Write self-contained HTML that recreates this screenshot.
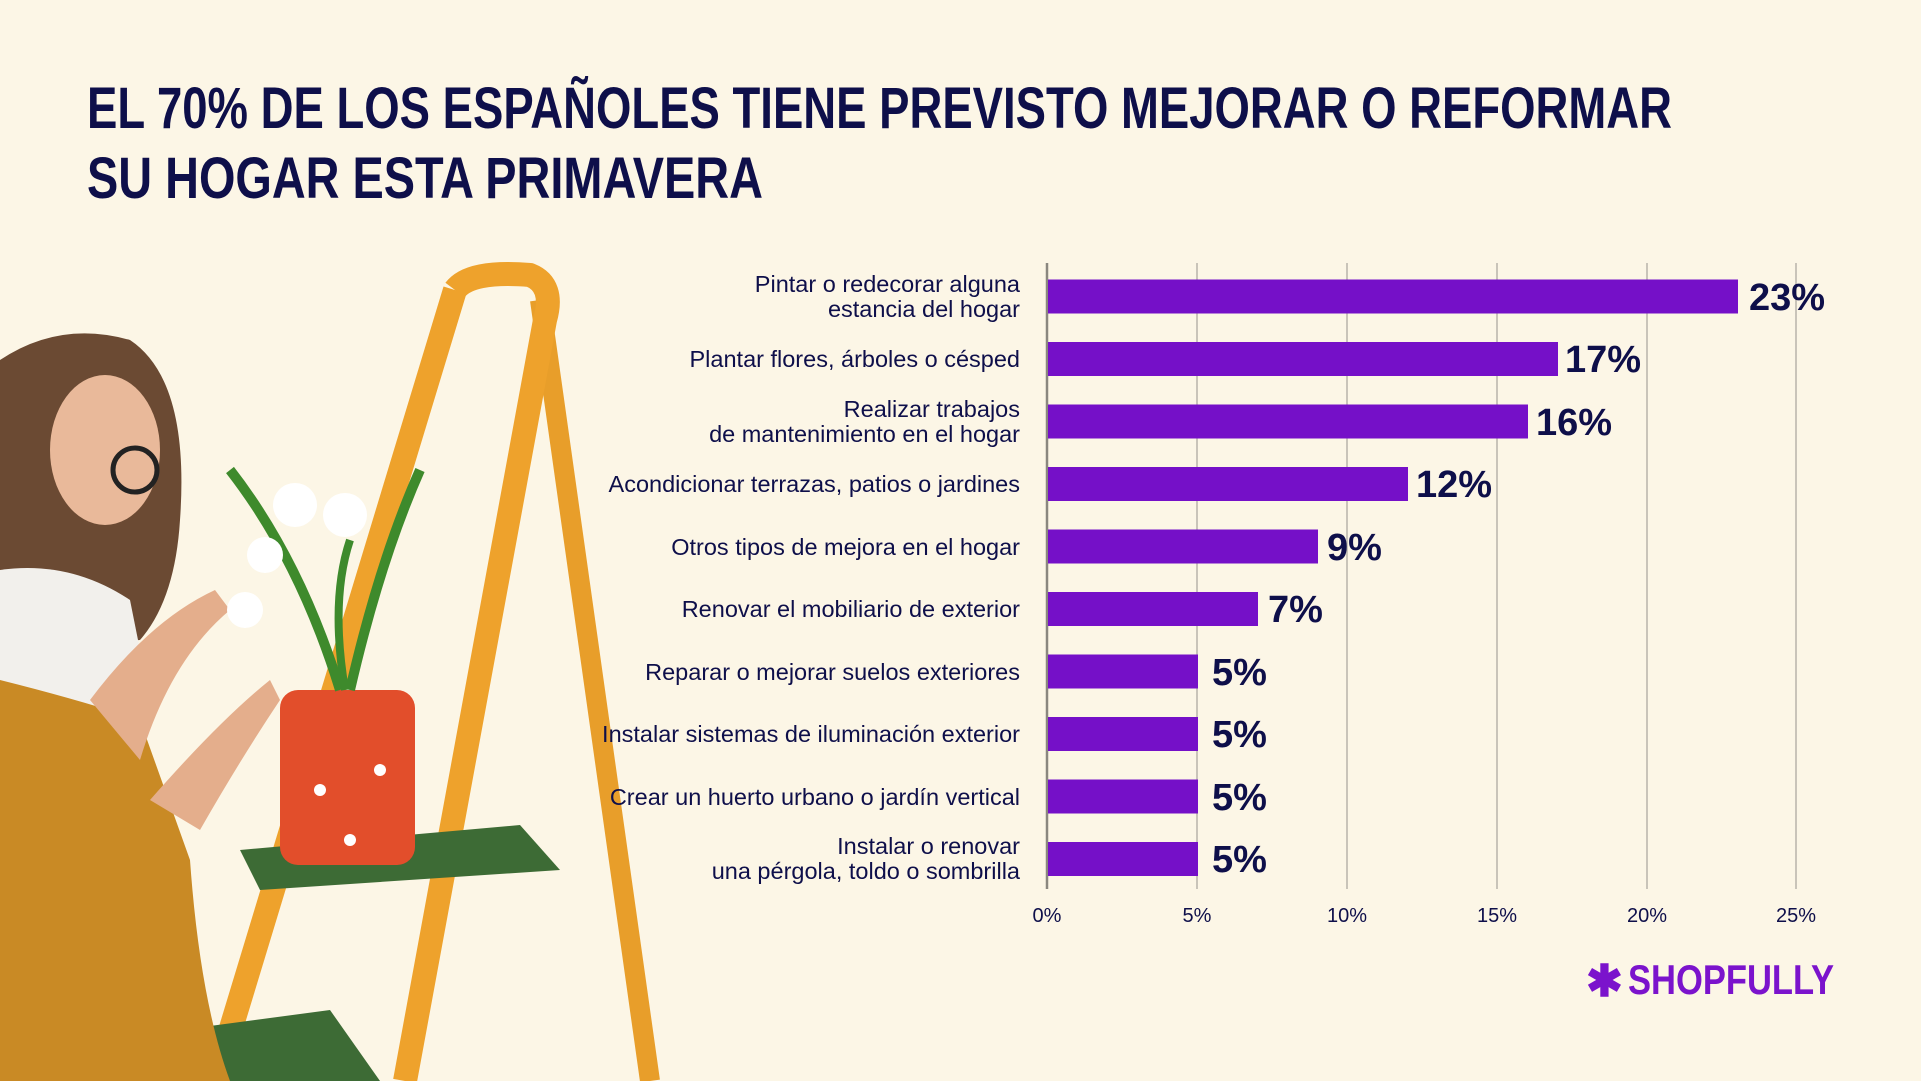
<!DOCTYPE html>
<html><head><meta charset="utf-8"><style>
html,body{margin:0;padding:0;background:#fcf6e6;}
svg{display:block;}
</style></head><body>
<svg width="1921" height="1081" viewBox="0 0 1921 1081" xmlns="http://www.w3.org/2000/svg">
<rect width="1921" height="1081" fill="#fcf6e6"/>
<g font-family="Liberation Sans, sans-serif" font-weight="bold" fill="#0e0f4a" font-size="58">
<text x="87" y="128" textLength="1585" lengthAdjust="spacingAndGlyphs">EL 70% DE LOS ESPAÑOLES TIENE PREVISTO MEJORAR O REFORMAR</text>
<text x="87" y="198" textLength="676" lengthAdjust="spacingAndGlyphs">SU HOGAR ESTA PRIMAVERA</text>
</g>
<g>
<line x1="540" y1="300" x2="650" y2="1081" stroke="#e89e2a" stroke-width="20"/>
<path d="M455 290 Q470 270 530 275 Q555 285 545 320 L405 1081" fill="none" stroke="#eea22c" stroke-width="24"/>
<path d="M455 290 L215 1081" fill="none" stroke="#eea22c" stroke-width="24"/>
<polygon points="240,850 520,825 560,870 260,890" fill="#3d6b35"/>
<polygon points="180,1030 330,1010 380,1081 200,1081" fill="#3d6b35"/>
<path d="M0 360 Q60 320 130 340 Q190 380 180 520 Q175 600 140 640 L0 650 Z" fill="#6b4a33"/>
<ellipse cx="105" cy="450" rx="55" ry="75" fill="#e9b99a"/>
<circle cx="135" cy="470" r="22" fill="none" stroke="#222" stroke-width="5"/>
<path d="M0 570 Q70 560 130 600 L150 700 L0 880 Z" fill="#f2f0ec"/>
<path d="M0 680 Q80 700 140 720 L190 860 Q200 1000 230 1081 L0 1081 Z" fill="#c98a25"/>
<path d="M90 700 Q150 620 215 590 L230 610 Q170 660 140 760 Z" fill="#e4ae8c"/>
<path d="M150 800 Q220 720 270 680 L280 700 Q240 760 200 830 Z" fill="#e4ae8c"/>
<rect x="280" y="690" width="135" height="175" rx="18" fill="#e24e2b"/>
<circle cx="320" cy="790" r="6" fill="#fff"/><circle cx="380" cy="770" r="6" fill="#fff"/><circle cx="350" cy="840" r="6" fill="#fff"/>
<path d="M340 690 Q300 560 230 470" stroke="#3e8a2c" stroke-width="10" fill="none"/>
<path d="M350 690 Q380 560 420 470" stroke="#3e8a2c" stroke-width="10" fill="none"/>
<path d="M345 690 Q330 600 350 540" stroke="#3e8a2c" stroke-width="8" fill="none"/>
<circle cx="295" cy="505" r="22" fill="#fff"/><circle cx="345" cy="515" r="22" fill="#fff"/>
<circle cx="265" cy="555" r="18" fill="#fff"/><circle cx="245" cy="610" r="18" fill="#fff"/>
</g>
<g stroke="#b8b4aa" stroke-width="1.5">
<line x1="1197" y1="263" x2="1197" y2="889"/>
<line x1="1347" y1="263" x2="1347" y2="889"/>
<line x1="1497" y1="263" x2="1497" y2="889"/>
<line x1="1647" y1="263" x2="1647" y2="889"/>
<line x1="1796" y1="263" x2="1796" y2="889"/>
</g>
<line x1="1047" y1="263" x2="1047" y2="889" stroke="#8a877f" stroke-width="2.5"/>
<g fill="#7510c8">
<rect x="1048" y="279.5" width="690" height="34"/>
<rect x="1048" y="342" width="510" height="34"/>
<rect x="1048" y="404.5" width="480" height="34"/>
<rect x="1048" y="467" width="360" height="34"/>
<rect x="1048" y="529.5" width="270" height="34"/>
<rect x="1048" y="592" width="210" height="34"/>
<rect x="1048" y="654.5" width="150" height="34"/>
<rect x="1048" y="717" width="150" height="34"/>
<rect x="1048" y="779.5" width="150" height="34"/>
<rect x="1048" y="842" width="150" height="34"/>
</g>
<g font-family="Liberation Sans, sans-serif" font-weight="bold" font-size="38" fill="#0e0f4a">
<text x="1749" y="310">23%</text>
<text x="1565" y="372">17%</text>
<text x="1536" y="435">16%</text>
<text x="1416" y="497">12%</text>
<text x="1327" y="560">9%</text>
<text x="1268" y="622">7%</text>
<text x="1212" y="685">5%</text>
<text x="1212" y="747">5%</text>
<text x="1212" y="810">5%</text>
<text x="1212" y="872">5%</text>
</g>
<g font-family="Liberation Sans, sans-serif" font-size="23.5" fill="#0e0f4a" text-anchor="end">
<text x="1020" y="292">Pintar o redecorar alguna</text>
<text x="1020" y="317">estancia del hogar</text>
<text x="1020" y="367">Plantar flores, árboles o césped</text>
<text x="1020" y="417">Realizar trabajos</text>
<text x="1020" y="442">de mantenimiento en el hogar</text>
<text x="1020" y="492">Acondicionar terrazas, patios o jardines</text>
<text x="1020" y="555">Otros tipos de mejora en el hogar</text>
<text x="1020" y="617">Renovar el mobiliario de exterior</text>
<text x="1020" y="680">Reparar o mejorar suelos exteriores</text>
<text x="1020" y="742">Instalar sistemas de iluminación exterior</text>
<text x="1020" y="805">Crear un huerto urbano o jardín vertical</text>
<text x="1020" y="854">Instalar o renovar</text>
<text x="1020" y="879">una pérgola, toldo o sombrilla</text>
</g>
<g font-family="Liberation Sans, sans-serif" font-size="20" fill="#0e0f4a" text-anchor="middle">
<text x="1047" y="922">0%</text><text x="1197" y="922">5%</text><text x="1347" y="922">10%</text>
<text x="1497" y="922">15%</text><text x="1647" y="922">20%</text><text x="1796" y="922">25%</text>
</g>
<g fill="#7b13cc">
<text x="1586" y="996" font-family="Liberation Sans, sans-serif" font-weight="bold" font-size="44" fill="#7b13cc">✱</text>
<text x="1628" y="994" font-family="Liberation Sans, sans-serif" font-weight="bold" font-size="42" textLength="206" lengthAdjust="spacingAndGlyphs">SHOPFULLY</text>
</g>
</svg>
</body></html>
